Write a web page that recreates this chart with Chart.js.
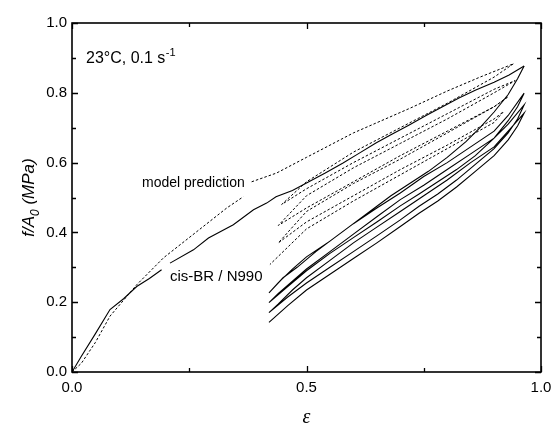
<!DOCTYPE html>
<html>
<head>
<meta charset="utf-8">
<script src="https://cdn.jsdelivr.net/npm/chart.js@4/dist/chart.umd.min.js"></script>
<style>
  html, body { margin: 0; padding: 0; background: #fff; }
  #wrap { width: 552px; height: 426px; }
</style>
</head>
<body>
<div id="wrap"><canvas id="chart" width="552" height="426"></canvas></div>
<script>
// Axis ticks
const xTicks = [0, 0.5, 1.0];
const xMinor = [0.25, 0.75];
const yTicks = [0, 0.2, 0.4, 0.6, 0.8, 1.0];
const yMinor = [0.1, 0.3, 0.5, 0.7, 0.9];

// Experiment (cis-BR / N990), first loading, null = gap in the trace
const expLoadX = [0, 0.02, 0.05, 0.081, 0.11, 0.138, 0.165, 0.191, null, 0.209, 0.259, 0.291, 0.344, 0.387, 0.415, 0.435, 0.47, 0.505, 0.54, 0.577, 0.61, 0.648, 0.68, 0.719, 0.755, 0.79, 0.825, 0.861, 0.9, 0.932, 0.964];
const expLoadY = [0, 0.045, 0.11, 0.179, 0.21, 0.245, 0.268, 0.293, null, 0.312, 0.35, 0.384, 0.422, 0.465, 0.484, 0.502, 0.52, 0.545, 0.57, 0.598, 0.625, 0.656, 0.68, 0.708, 0.735, 0.76, 0.785, 0.808, 0.83, 0.851, 0.877];

// Experiment, unload / reload cycles
const expCycleX = [0.964, 0.95, 0.93, 0.9, 0.87, 0.84, 0.8, 0.76, 0.72, 0.68, 0.64, 0.6, 0.56, 0.52, 0.48, 0.45, 0.42,
                   0.44, 0.47, 0.5, 0.55, 0.6, 0.65, 0.7, 0.75, 0.8, 0.85, 0.9, 0.93, 0.964,
                   0.95, 0.93, 0.9, 0.86, 0.82, 0.78, 0.74, 0.7, 0.65, 0.6, 0.55, 0.5, 0.46, 0.42,
                   0.44, 0.47, 0.5, 0.55, 0.6, 0.65, 0.7, 0.75, 0.8, 0.85, 0.9, 0.93, 0.964,
                   0.95, 0.93, 0.9, 0.86, 0.82, 0.78, 0.74, 0.7, 0.65, 0.6, 0.55, 0.5, 0.46, 0.42,
                   0.44, 0.47, 0.5, 0.55, 0.6, 0.65, 0.7, 0.75, 0.8, 0.85, 0.9, 0.93, 0.964,
                   0.95, 0.93, 0.9, 0.86, 0.82, 0.78, 0.74, 0.7, 0.65, 0.6, 0.55, 0.5, 0.46, 0.42];
const expCycleY = [0.877, 0.84, 0.795, 0.745, 0.7, 0.66, 0.615, 0.575, 0.54, 0.505, 0.465, 0.425, 0.385, 0.345, 0.3, 0.27, 0.227,
                   0.256, 0.295, 0.33, 0.375, 0.425, 0.47, 0.513, 0.56, 0.6, 0.645, 0.69, 0.735, 0.799,
                   0.76, 0.72, 0.67, 0.62, 0.58, 0.545, 0.51, 0.476, 0.43, 0.385, 0.34, 0.29, 0.245, 0.199,
                   0.225, 0.26, 0.295, 0.345, 0.395, 0.445, 0.494, 0.535, 0.58, 0.625, 0.67, 0.71, 0.765,
                   0.725, 0.685, 0.64, 0.595, 0.55, 0.51, 0.475, 0.436, 0.39, 0.345, 0.3, 0.255, 0.215, 0.17,
                   0.195, 0.235, 0.27, 0.32, 0.37, 0.415, 0.46, 0.505, 0.55, 0.6, 0.645, 0.69, 0.742,
                   0.705, 0.665, 0.62, 0.575, 0.53, 0.49, 0.455, 0.417, 0.37, 0.325, 0.28, 0.235, 0.19, 0.142];

// Model prediction, loading path (gap beside its label)
const modelLoadX = [0, 0.02, 0.05, 0.081, 0.138, 0.195, 0.28, 0.33, 0.365, null, 0.383, 0.436, 0.5, 0.6, 0.721, 0.8, 0.87, 0.941];
const modelLoadY = [0, 0.025, 0.085, 0.16, 0.25, 0.327, 0.417, 0.47, 0.502, null, 0.545, 0.57, 0.615, 0.685, 0.756, 0.805, 0.845, 0.883];

// Model prediction, unload / reload cycles
const modelCycleX = [0.941, 0.9, 0.8, 0.7, 0.6, 0.5, 0.447,
                     0.5, 0.6, 0.7, 0.8, 0.9, 0.945,
                     0.9, 0.8, 0.7, 0.6, 0.5, 0.44,
                     0.5, 0.6, 0.7, 0.8, 0.9, 0.93,
                     0.9, 0.8, 0.7, 0.6, 0.5, 0.44,
                     0.5, 0.6, 0.7, 0.8, 0.9, 0.92,
                     0.9, 0.8, 0.7, 0.6, 0.5, 0.422];
const modelCycleY = [0.883, 0.845, 0.77, 0.7, 0.63, 0.545, 0.48,
                     0.525, 0.6, 0.67, 0.74, 0.81, 0.835,
                     0.8, 0.725, 0.655, 0.585, 0.505, 0.42,
                     0.47, 0.545, 0.62, 0.69, 0.76, 0.789,
                     0.76, 0.685, 0.61, 0.54, 0.46, 0.37,
                     0.43, 0.505, 0.58, 0.65, 0.725, 0.746,
                     0.715, 0.64, 0.565, 0.49, 0.41, 0.308];

function toPoints(xs, ys) {
    return xs.map((x, i) => (x === null ? { x: null, y: null } : { x: x, y: ys[i] }));
}

// Inward ticks on all four sides, frame and labels
const framePlugin = {
    id: 'frame',
    afterDraw(chart) {
        const ctx = chart.ctx;
        const a = chart.chartArea;
        const xs = chart.scales.x;
        const ys = chart.scales.y;
        ctx.save();
        ctx.strokeStyle = '#000';
        ctx.lineWidth = 1.6;
        ctx.strokeRect(a.left, a.top, a.right - a.left, a.bottom - a.top);
        ctx.lineWidth = 1.3;
        const tick = (vals, len) => {
            vals.forEach(v => {
                const px = Math.round(xs.getPixelForValue(v)) + 0.5;
                ctx.beginPath();
                ctx.moveTo(px, a.bottom); ctx.lineTo(px, a.bottom - len);
                ctx.moveTo(px, a.top); ctx.lineTo(px, a.top + len);
                ctx.stroke();
            });
        };
        const tickY = (vals, len) => {
            vals.forEach(v => {
                const py = Math.round(ys.getPixelForValue(v)) + 0.5;
                ctx.beginPath();
                ctx.moveTo(a.left, py); ctx.lineTo(a.left + len, py);
                ctx.moveTo(a.right, py); ctx.lineTo(a.right - len, py);
                ctx.stroke();
            });
        };
        tick(xTicks, 6); tick(xMinor, 4);
        tickY(yTicks, 6); tickY(yMinor, 4);

        ctx.fillStyle = '#000';
        ctx.textBaseline = 'alphabetic';
        // condition label
        ctx.font = '16px "Liberation Sans", Arial, sans-serif';
        ctx.textAlign = 'left';
        const cond = '23°C, 0.1 s';
        ctx.fillText(cond, 86, 63);
        const cw = ctx.measureText(cond).width;
        ctx.font = '11px "Liberation Sans", Arial, sans-serif';
        ctx.fillText('-1', 86 + cw + 0.5, 56);

        ctx.font = '14px "Liberation Sans", Arial, sans-serif';
        ctx.fillText('model prediction', 142, 187);
        ctx.font = '15px "Liberation Sans", Arial, sans-serif';
        ctx.fillText('cis-BR / N990', 170, 281);

        // x title
        ctx.font = 'italic 20px "Liberation Serif", "Times New Roman", serif';
        ctx.textAlign = 'center';
        ctx.fillText('ε', (a.left + a.right) / 2, 423);

        // y title
        ctx.translate(34, (a.top + a.bottom) / 2);
        ctx.rotate(-Math.PI / 2);
        const big = 'italic 17px "Liberation Sans", Arial, sans-serif';
        const small = 'italic 12px "Liberation Sans", Arial, sans-serif';
        ctx.font = big;
        const w1 = ctx.measureText('f/A').width;
        const w3 = ctx.measureText(' (MPa)').width;
        ctx.font = small;
        const w2 = ctx.measureText('0').width;
        let x0 = -(w1 + w2 + w3) / 2;
        ctx.textAlign = 'left';
        ctx.font = big;
        ctx.fillText('f/A', x0, 0);
        ctx.font = small;
        ctx.fillText('0', x0 + w1, 5);
        ctx.font = big;
        ctx.fillText(' (MPa)', x0 + w1 + w2, 0);
        ctx.restore();
    }
};

const lineStyle = { showLine: true, pointRadius: 0, borderColor: '#000', borderWidth: 1.1, tension: 0, spanGaps: false, fill: false };
const dashStyle = Object.assign({}, lineStyle, { borderWidth: 1, borderDash: [2.5, 2] });

new Chart(document.getElementById('chart'), {
    type: 'scatter',
    data: {
        datasets: [
            Object.assign({ data: toPoints(expLoadX, expLoadY) }, lineStyle),
            Object.assign({ data: toPoints(expCycleX, expCycleY) }, lineStyle),
            Object.assign({ data: toPoints(modelLoadX, modelLoadY) }, dashStyle),
            Object.assign({ data: toPoints(modelCycleX, modelCycleY) }, dashStyle)
        ]
    },
    options: {
        responsive: false,
        animation: false,
        layout: { padding: { left: 0, top: 23, right: 11, bottom: 0 } },
        plugins: { legend: { display: false }, tooltip: { enabled: false } },
        scales: {
            x: {
                type: 'linear', min: 0, max: 1,
                grid: { display: false, drawTicks: false },
                border: { display: false },
                ticks: {
                    stepSize: 0.5, maxRotation: 0, padding: 7, color: '#000',
                    font: { family: '"Liberation Sans", Arial, sans-serif', size: 15 },
                    callback: v => v.toFixed(1)
                },
                afterFit(scale) { scale.height = 54; scale.paddingLeft = 0; scale.paddingRight = 0; }
            },
            y: {
                type: 'linear', min: 0, max: 1,
                grid: { display: false, drawTicks: false },
                border: { display: false },
                ticks: {
                    stepSize: 0.2, padding: 5, color: '#000',
                    font: { family: '"Liberation Sans", Arial, sans-serif', size: 15 },
                    callback: v => v.toFixed(1)
                },
                afterFit(scale) { scale.width = 72; scale.paddingTop = 0; scale.paddingBottom = 0; }
            }
        }
    },
    plugins: [framePlugin]
});
</script>
</body>
</html>
